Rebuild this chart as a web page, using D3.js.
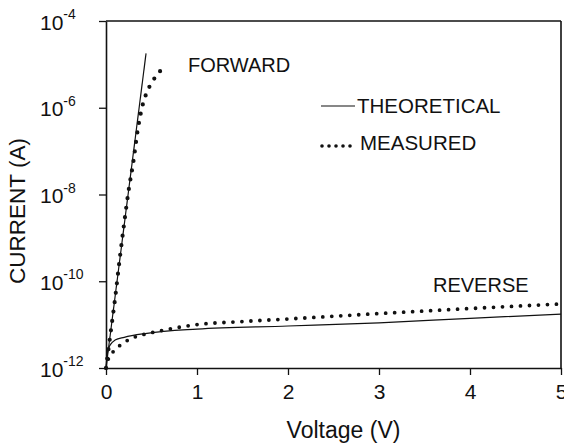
<!DOCTYPE html>
<html>
<head>
<meta charset="utf-8">
<script src="https://cdn.jsdelivr.net/npm/d3@7"></script>
<style>
  html, body { margin: 0; padding: 0; background: #fff; }
  svg { display: block; }
  text { font-family: "Liberation Sans", Arial, sans-serif; fill: #111; }
</style>
</head>
<body>
<svg id="chart" width="564" height="444"></svg>
<script>
// Diode I-V characteristics: voltage (V) and current (A)
const theoForwardV = [0, 0.44];
const theoForwardI = [1e-12, 1.8e-5];

const measForwardV = [0, 0.05, 0.1, 0.15, 0.2, 0.25, 0.3, 0.35, 0.4, 0.45, 0.5, 0.55, 0.62];
const measForwardI = [1e-12, 6.3e-12, 4.0e-11, 3.2e-10, 2.2e-9, 1.3e-8, 5.6e-8, 3.2e-7, 1.1e-6, 2.3e-6, 3.7e-6, 5.4e-6, 7.9e-6];

const theoReverseV = [0, 0.02, 0.05, 0.1, 0.2, 0.45, 1, 2, 3, 4, 5];
const theoReverseI = [1e-12, 2.5e-12, 3.5e-12, 4.4e-12, 5.1e-12, 6.3e-12, 7.9e-12, 9.3e-12, 1.1e-11, 1.4e-11, 1.75e-11];

const measReverseV = [0, 0.03, 0.1, 0.2, 0.3, 0.5, 0.75, 1, 1.5, 2, 3, 4, 5];
const measReverseI = [1e-12, 1.7e-12, 2.6e-12, 3.9e-12, 5e-12, 6.5e-12, 8.3e-12, 1.0e-11, 1.18e-11, 1.35e-11, 1.8e-11, 2.35e-11, 3.0e-11];

const xTicks = [0, 1, 2, 3, 4, 5];
const yTicks = [1e-12, 1e-10, 1e-8, 1e-6, 1e-4];

const svg = d3.select("#chart");
const plotLeft = 106, plotRight = 561, plotTop = 21, plotBottom = 368;

const x = d3.scaleLinear().domain([0, 5]).range([plotLeft, plotRight]);
const y = d3.scaleLog().domain([1e-12, 1e-4]).range([plotBottom, plotTop]);

const ink = "#111";

// Frame: top and right edges
svg.append("line").attr("x1", plotLeft).attr("x2", plotRight).attr("y1", plotTop).attr("y2", plotTop)
  .attr("stroke", ink).attr("stroke-width", 1.6);
svg.append("line").attr("x1", plotRight).attr("x2", plotRight).attr("y1", plotTop).attr("y2", plotBottom)
  .attr("stroke", ink).attr("stroke-width", 1.6);

// Bottom axis
const gx = svg.append("g").attr("transform", `translate(0,${plotBottom})`)
  .call(d3.axisBottom(x).tickValues(xTicks).tickSize(7).tickSizeOuter(0).tickPadding(6).tickFormat(d3.format("d")));
gx.select(".domain").attr("stroke", ink).attr("stroke-width", 1.6);
gx.selectAll(".tick line").attr("stroke", ink).attr("stroke-width", 1.3);
gx.selectAll(".tick text").style("font-size", "21px").attr("fill", ink)
  .attr("dy", null).attr("y", 30.5);

// Left axis (labels drawn separately as powers of ten)
const gy = svg.append("g").attr("transform", `translate(${plotLeft},0)`)
  .call(d3.axisLeft(y).tickValues(yTicks).tickSize(7).tickSizeOuter(0).tickFormat(""));
gy.select(".domain").attr("stroke", ink).attr("stroke-width", 1.6);
gy.selectAll(".tick line").attr("stroke", ink).attr("stroke-width", 1.3);

const yLab = svg.append("g").selectAll("text").data(yTicks).join("text")
  .attr("x", 40)
  .attr("y", d => y(d) + 8.5)
  .style("font-size", "21px");
yLab.append("tspan").text("10");
yLab.append("tspan").attr("dy", -10.5).style("font-size", "14px")
  .text(d => "-" + Math.round(-Math.log10(d)));

// Axis titles
svg.append("text").attr("x", x(2.5) + 10).attr("y", 438).attr("text-anchor", "middle")
  .style("font-size", "23px").text("Voltage (V)");
svg.append("text").attr("transform", "translate(25,211) rotate(-90)").attr("text-anchor", "middle")
  .style("font-size", "22.5px").text("CURRENT (A)");

// Series
const toPts = (vs, is) => vs.map((v, i) => [v, is[i]]);
const line = d3.line().x(d => x(d[0])).y(d => y(d[1])).curve(d3.curveMonotoneX);

const solid = (pts) => svg.append("path").attr("d", line(pts))
  .attr("fill", "none").attr("stroke", ink).attr("stroke-width", 1.2);
const dotted = (pts, gap, w) => svg.append("path").attr("d", line(pts))
  .attr("fill", "none").attr("stroke", ink).attr("stroke-width", w)
  .attr("stroke-linecap", "round").attr("stroke-dasharray", `0 ${gap}`);

solid(toPts(theoForwardV, theoForwardI));
solid(toPts(theoReverseV, theoReverseI));
dotted(toPts(measForwardV, measForwardI), 9.5, 4.2);
dotted(toPts(measReverseV, measReverseI), 9, 3.8);

// Curve labels
svg.append("text").attr("x", 188).attr("y", 72).style("font-size", "20px").text("FORWARD");
svg.append("text").attr("x", 433).attr("y", 292).style("font-size", "20px").text("REVERSE");

// Legend
svg.append("line").attr("x1", 321).attr("x2", 355).attr("y1", 106).attr("y2", 106)
  .attr("stroke", ink).attr("stroke-width", 1.2);
svg.append("text").attr("x", 357).attr("y", 113).style("font-size", "20.5px").text("THEORETICAL");
svg.append("g").selectAll("circle").data(d3.range(5)).join("circle")
  .attr("cx", i => 322 + i * 7).attr("cy", 146).attr("r", 1.8).attr("fill", ink);
svg.append("text").attr("x", 360).attr("y", 149.5).style("font-size", "20.5px").text("MEASURED");
</script>
</body>
</html>
